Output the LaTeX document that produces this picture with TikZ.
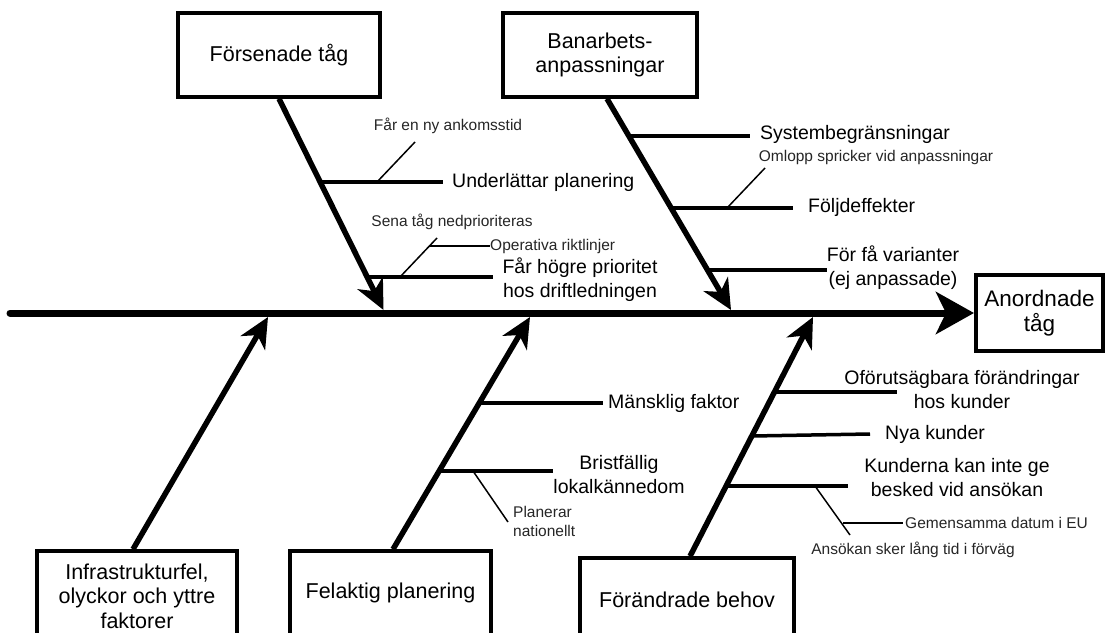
\documentclass[tikz,border=0pt]{standalone}
\usepackage{fontspec}
\setmainfont{Liberation Sans}
\usetikzlibrary{arrows.meta,calc}
\begin{document}
\begin{tikzpicture}[x=1pt,y=-1pt,
  box/.style={draw, line width=3.5pt, rectangle, align=center,
    font=\fontsize{21.5}{24.5}\selectfont, inner sep=0pt},
  bone/.style={line width=5.5pt, -{Stealth[length=30pt,width=28pt,inset=9pt]}},
  spine/.style={line width=7pt, line cap=round, -{Stealth[length=38pt,width=42pt,inset=10pt]}},
  twig/.style={line width=3.5pt},
  thin/.style={line width=1.5pt},
  lbl/.style={font=\fontsize{19.5}{24}\selectfont, align=center, inner sep=0pt},
  note/.style={font=\fontsize{15.5}{19}\selectfont, text=black!85, align=left, inner sep=0pt},
]
\useasboundingbox (0,0) rectangle (1111,632);
\fill[white] (0,0) rectangle (1111,632);

% cause category boxes and effect box
\node[box, minimum width=202pt, minimum height=84pt] (F1) at (279,55) {Försenade tåg};
\node[box, minimum width=194pt, minimum height=84pt] (F2) at (600,55) {Banarbets-\\anpassningar};
\node[box, line width=4pt, minimum width=127pt, minimum height=76pt,
      font=\fontsize{22.5}{25}\selectfont] (E) at (1039.5,313) {Anordnade\\tåg};
\node[box, minimum width=200pt, minimum height=90pt] (B1) at (137,596) {Infrastrukturfel,\\olyckor och yttre\\faktorer};
\node[box, minimum width=201pt, minimum height=84pt] (B2) at (390.5,593) {Felaktig planering};
\node[box, minimum width=214pt, minimum height=84pt] (B3) at (687,600) {Förändrade behov};

% spine
\coordinate (S0) at (10,313);
\draw[spine] (S0) -- (E.west);

% main bones
\coordinate (T1) at (383.5,310);
\coordinate (T2) at (731,310);
\coordinate (T3) at (268,317);
\coordinate (T4) at (530,317);
\coordinate (T5) at (813,317);
\draw[bone] (F1.south) -- (T1);
\draw[bone] ([xshift=7pt]F2.south) -- (T2);
\draw[bone] ([xshift=-4pt]B1.north) -- (T3);
\draw[bone] ([xshift=2.5pt]B2.north) -- (T4);
\draw[bone] ([xshift=3pt]B3.north) -- (T5);

% --- Försenade tåg ---
\coordinate (a1) at (321,182);
\node[lbl, anchor=west] (L1) at (452,182) {Underlättar planering};
\draw[twig] (a1) -- ([xshift=-9pt]L1.west);
\coordinate (a2) at (367,277);
\node[lbl] (L2) at (580,280) {Får högre prioritet\\hos driftledningen};
\draw[twig] (a2) -- ([xshift=-9pt]a2 -| L2.west);

\node[note] (n1) at (448,126) {Får en ny ankomsstid};
\coordinate (n1a) at (377,182);
\coordinate (n1b) at (415,142);
\draw[thin] (n1a) -- (n1b);
\node[note] (n2) at (452,222) {Sena tåg nedprioriteras};
\coordinate (n2a) at (400,277);
\coordinate (n2b) at (437,238);
\draw[thin] (n2a) -- (n2b);
\node[note, anchor=west] (n3) at (490,246) {Operativa riktlinjer};
\coordinate (n3a) at (428.5,246);
\draw[thin] (n3a) -- (n3.west);

% --- Banarbetsanpassningar ---
\coordinate (b1) at (630,136);
\node[lbl, anchor=west] (L3) at (760,134) {Systembegränsningar};
\draw[twig] (b1) -- ([xshift=-10pt]b1 -| L3.west);
\coordinate (b2) at (672,208);
\node[lbl, anchor=west] (L4) at (808,207) {Följdeffekter};
\draw[twig] (b2) -- ([xshift=-15pt]b2 -| L4.west);
\coordinate (b3) at (708,270);
\node[lbl] (L5) at (893,268) {För få varianter\\(ej anpassade)};
\draw[twig] (b3) -- (b3 -| L5.west);

\node[note] (n4) at (876,157) {Omlopp spricker vid anpassningar};
\coordinate (n4a) at (727,208);
\coordinate (n4b) at (765,168);
\draw[thin] (n4a) -- (n4b);

% --- Felaktig planering ---
\coordinate (c1) at (480,403);
\node[lbl, anchor=west] (L6) at (608,403) {Mänsklig faktor};
\draw[twig] (c1) -- ([xshift=-5pt]L6.west);
\coordinate (c2) at (440,471);
\node[lbl] (L7) at (619,475) {Bristfällig\\lokalkännedom};
\draw[twig] (c2) -- (c2 -| L7.west);

\node[note, anchor=west] (n5) at (513,521) {Planerar\\nationellt};
\coordinate (n5a) at (473,471);
\coordinate (n5b) at (508,522);
\draw[thin] (n5a) -- (n5b);

% --- Förändrade behov ---
\coordinate (d1) at (775,392);
\coordinate (d1e) at (897,392);
\node[lbl] (L8) at (962,390) {Oförutsägbara förändringar\\hos kunder};
\draw[twig] (d1) -- (d1e);
\coordinate (d2) at (752,436);
\node[lbl, anchor=west] (L9) at (885,434) {Nya kunder};
\draw[twig] (d2) -- ([xshift=-15pt]L9.west);
\coordinate (d3) at (727,486);
\coordinate (d3e) at (848,486);
\node[lbl] (L10) at (957,478) {Kunderna kan inte ge\\besked vid ansökan};
\draw[twig] (d3) -- (d3e);

\node[note, anchor=west] (n6) at (905,523) {Gemensamma datum i EU};
\node[note] (n7) at (913,550) {Ansökan sker lång tid i förväg};
\coordinate (n7a) at (815,486);
\coordinate (n7b) at (850,535);
\draw[thin] (n7a) -- (n7b);
\coordinate (n6a) at (843,523);
\draw[thin] (n6a) -- ([xshift=-2pt]n6.west);
\end{tikzpicture}
\end{document}
